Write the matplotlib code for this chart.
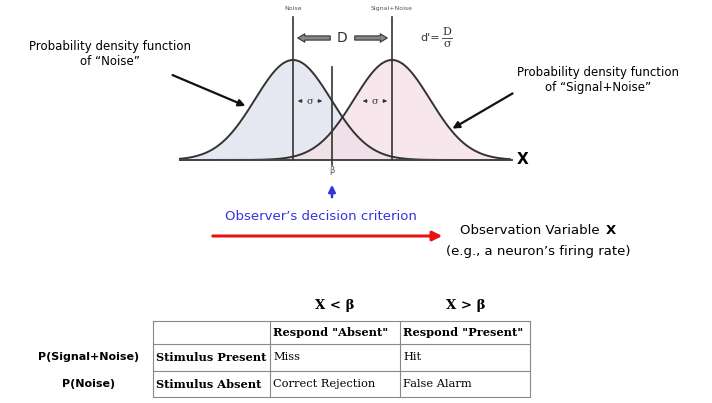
import numpy as np
import matplotlib
matplotlib.use("Agg")
import matplotlib.pyplot as plt

mu_noise, mu_signal, sigma, beta = 293.0, 392.0, 38.0, 332.0
peak_h = 100.0
base_y = 160.0
col_edges = [153, 270, 400, 530]
row_edges = [321, 344, 371, 397]
header = ["", 'Respond "Absent"', 'Respond "Present"']
rows = [["Stimulus Present", "Miss", "Hit"],
        ["Stimulus Absent", "Correct Rejection", "False Alarm"]]
row_labels = ["P(Signal+Noise)", "P(Noise)"]

fig = plt.figure(figsize=(7.12, 4.03), dpi=100)
ax = fig.add_axes([0, 0, 1, 1])
ax.set_xlim(0, 712); ax.set_ylim(403, 0); ax.axis("off")

x = np.linspace(180, 510, 600)
def g(m):
    return base_y - peak_h*np.exp(-0.5*((x-m)/sigma)**2)
yn, ys = g(mu_noise), g(mu_signal)
ax.fill_between(x, base_y, yn, color="#dfe3ee", alpha=0.8, lw=0)
ax.fill_between(x, base_y, ys, color="#f5dde4", alpha=0.7, lw=0)
ax.plot(x, yn, color="#333", lw=1.4)
ax.plot(x, ys, color="#333", lw=1.4)
ax.plot([180, 512], [base_y, base_y], color="#444", lw=1.4)
ax.text(517, base_y, "X", fontsize=11, fontweight="bold", va="center")
for m in (mu_noise, mu_signal):
    ax.plot([m, m], [17, base_y], color="#333", lw=1.2)
ax.plot([beta, beta], [67, 165], color="#333", lw=1.2)
ax.text(mu_noise, 10, "Noise", fontsize=4.5, ha="center", color="#555")
ax.text(mu_signal, 10, "Signal+Noise", fontsize=4.5, ha="center", color="#555")
ax.text(beta, 173, "β", fontsize=6, ha="center", color="#555")
ax.text(342, 38, "D", fontsize=10, ha="center", va="center", color="#333")
for a, b in ((333, 295), (352, 390)):
    ax.annotate("", xy=(b, 38), xytext=(a, 38),
                arrowprops=dict(arrowstyle="simple,head_width=0.6,head_length=0.5,tail_width=0.3",
                                fc="#888", ec="#333", lw=0.8))
ax.text(430, 38, "d'=", fontsize=8, ha="center", va="center", color="#333")
ax.text(447, 32, "D", fontsize=8, ha="center", va="center", family="serif", color="#333")
ax.plot([442, 452], [38, 38], color="#333", lw=0.6)
ax.text(447, 44, "σ", fontsize=8, ha="center", va="center", family="serif", color="#333")
for m in (mu_noise, mu_signal):
    c = m + 17 if m == mu_noise else m - 17
    ax.text(c, 101, "σ", fontsize=7, ha="center", va="center", family="serif", color="#333")
    ax.annotate("", xy=(c-15, 101), xytext=(c-5, 101), arrowprops=dict(arrowstyle="-|>", lw=0.7, color="#333", mutation_scale=5))
    ax.annotate("", xy=(c+15, 101), xytext=(c+5, 101), arrowprops=dict(arrowstyle="-|>", lw=0.7, color="#333", mutation_scale=5))

ax.text(110, 54, "Probability density function\nof \u201cNoise\u201d", fontsize=8.5, ha="center", va="center")
ax.annotate("", xy=(248, 107), xytext=(170, 74), arrowprops=dict(arrowstyle="-|>", lw=1.6, color="#111"))
ax.text(598, 80, "Probability density function\nof \u201cSignal+Noise\u201d", fontsize=8.5, ha="center", va="center")
ax.annotate("", xy=(450, 130), xytext=(515, 92), arrowprops=dict(arrowstyle="-|>", lw=1.6, color="#111"))
ax.annotate("", xy=(beta, 182), xytext=(beta, 200), arrowprops=dict(arrowstyle="-|>", lw=1.8, color="#3333dd"))
ax.text(321, 217, "Observer\u2019s decision criterion", fontsize=9.5, ha="center", va="center", color="#3333dd")
ax.annotate("", xy=(445, 236), xytext=(210, 236), arrowprops=dict(arrowstyle="-|>", lw=2.2, color="#e51515", mutation_scale=14))
ax.text(460, 231, "Observation Variable ", fontsize=9.5, va="center")
ax.text(606, 231, "X", fontsize=9.5, va="center", fontweight="bold")
ax.text(446, 252, "(e.g., a neuron\u2019s firing rate)", fontsize=9.5, va="center")

ax.text(335, 305, "X < β", fontsize=9.5, ha="center", va="center", family="serif", fontweight="bold")
ax.text(466, 305, "X > β", fontsize=9.5, ha="center", va="center", family="serif", fontweight="bold")
for r in row_edges:
    ax.plot([col_edges[0], col_edges[-1]], [r, r], color="#888", lw=0.8)
for c in col_edges:
    ax.plot([c, c], [row_edges[0], row_edges[-1]], color="#888", lw=0.8)
all_rows = [header] + rows
for i, row in enumerate(all_rows):
    yc = (row_edges[i] + row_edges[i+1]) / 2
    for j, t in enumerate(row):
        bold = (i == 0) or (j == 0)
        ax.text(col_edges[j] + 3, yc, t, fontsize=8.2, va="center", family="serif",
                fontweight="bold" if bold else "normal")
for i, t in enumerate(row_labels):
    yc = (row_edges[i+1] + row_edges[i+2]) / 2
    ax.text(89, yc, t, fontsize=8, ha="center", va="center", fontweight="bold")

fig.savefig("out.png", dpi=100)
